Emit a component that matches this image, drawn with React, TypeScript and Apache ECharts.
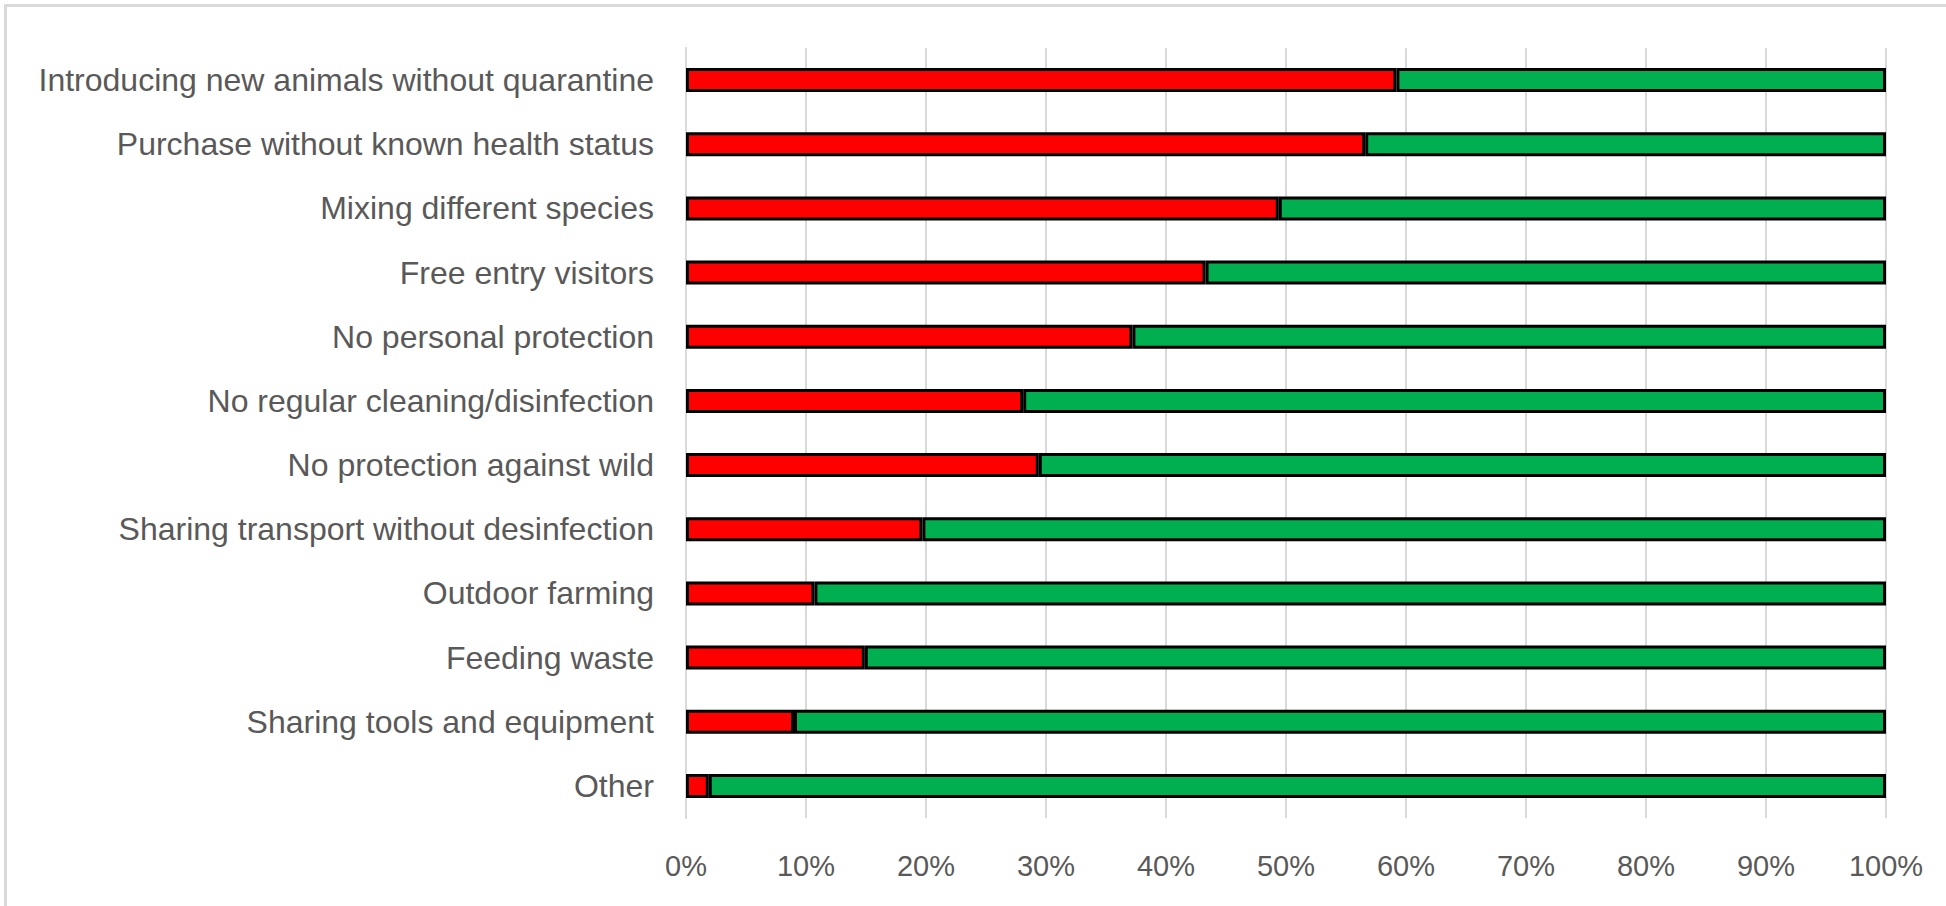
import React, { useEffect, useRef } from "react";
import * as echarts from "echarts";

const categories = [
  "Introducing new animals without quarantine",
  "Purchase without known health status",
  "Mixing different species",
  "Free entry visitors",
  "No personal protection",
  "No regular cleaning/disinfection",
  "No protection against wild",
  "Sharing transport without desinfection",
  "Outdoor farming",
  "Feeding waste",
  "Sharing tools and equipment",
  "Other",
];

const riskYes = [59.2, 56.6, 49.4, 43.3, 37.2, 28.1, 29.4, 19.7, 10.7, 14.9, 9.0, 1.9];
const riskNo = [40.8, 43.4, 50.6, 56.7, 62.8, 71.9, 70.6, 80.3, 89.3, 85.1, 91.0, 98.1];

const xTicks = [0, 10, 20, 30, 40, 50, 60, 70, 80, 90, 100];

export default function App() {
  const ref = useRef<HTMLDivElement>(null);
  useEffect(() => {
    if (!ref.current) return;
    const chart = echarts.init(ref.current, null, { renderer: "svg" });
    const font = "'Liberation Sans', Arial, sans-serif";
    chart.setOption({
      animation: false,
      backgroundColor: "#ffffff",
      graphic: [
        {
          type: "rect",
          shape: { x: 5.5, y: 5.5, width: 1960, height: 920 },
          style: { fill: "none", stroke: "#D9D9D9", lineWidth: 3 },
          silent: true,
        },
      ],
      grid: { left: 686, right: 60, top: 48, bottom: 88, containLabel: false },
      xAxis: {
        type: "value",
        min: xTicks[0],
        max: xTicks[xTicks.length - 1],
        interval: 10,
        axisLine: { show: false },
        axisTick: { show: false },
        splitLine: { show: true, lineStyle: { color: "#D9D9D9", width: 2 } },
        axisLabel: {
          formatter: "{value}%",
          color: "#595959",
          fontSize: 29,
          fontFamily: font,
          margin: 33,
        },
      },
      yAxis: {
        type: "category",
        data: categories,
        inverse: true,
        axisLine: { show: true, lineStyle: { color: "#D9D9D9", width: 2 } },
        axisTick: { show: false },
        splitLine: { show: false },
        axisLabel: {
          color: "#595959",
          fontSize: 32,
          fontFamily: font,
          margin: 32,
        },
      },
      series: [
        {
          name: "Yes",
          type: "bar",
          stack: "total",
          data: riskYes,
          barWidth: 24,
          itemStyle: { color: "#FF0000", borderColor: "#000000", borderWidth: 3 },
        },
        {
          name: "No",
          type: "bar",
          stack: "total",
          data: riskNo,
          barWidth: 24,
          itemStyle: { color: "#00B050", borderColor: "#000000", borderWidth: 3 },
        },
      ],
    });
    return () => chart.dispose();
  }, []);
  return (
    <div
      ref={ref}
      style={{ position: "fixed", left: 0, top: 0, width: 1946, height: 906, background: "#fff" }}
    />
  );
}
